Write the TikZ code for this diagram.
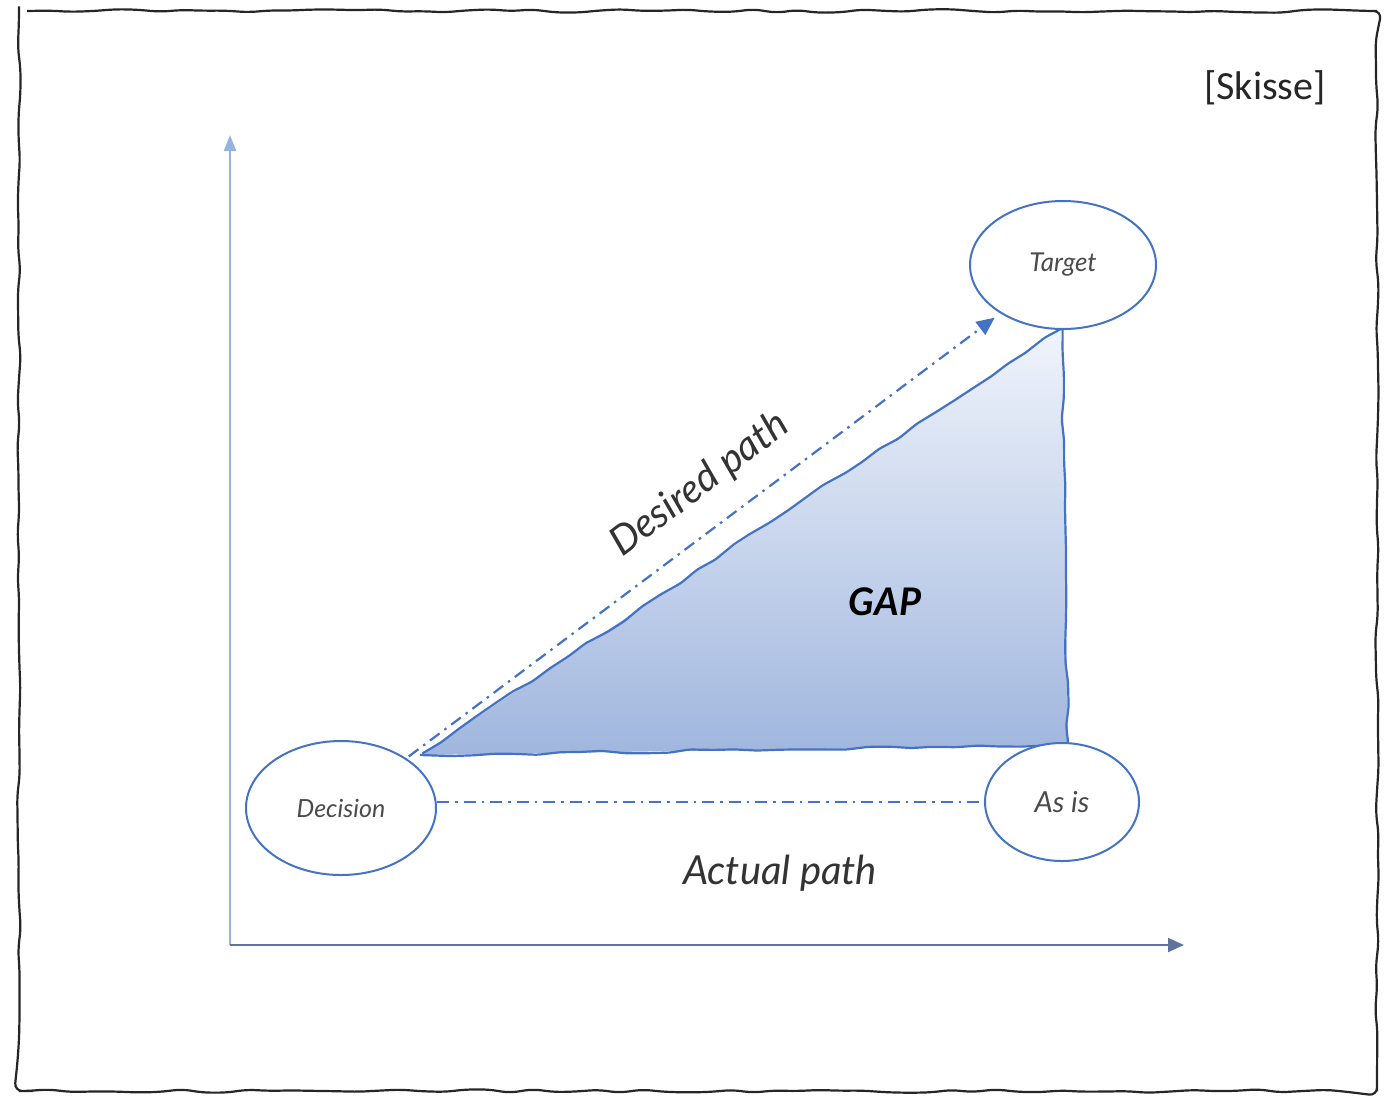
\documentclass[tikz,border=0pt]{standalone}
\usepackage{fontspec}
\setmainfont{Lato}
\newfontfamily\calib{Carlito}
\usetikzlibrary{shapes.geometric,arrows.meta,decorations.pathmorphing}
\definecolor{obl}{RGB}{68,114,196}
\definecolor{axl}{RGB}{150,178,222}
\definecolor{axh}{RGB}{95,115,155}
\definecolor{gapb}{RGB}{160,182,222}
\definecolor{gapt}{RGB}{240,244,251}
\definecolor{txg}{RGB}{75,75,75}
\tikzset{
  wob/.style={decorate,decoration={random steps,segment length=22pt,amplitude=1.8pt},rounded corners=8pt},
  bubble/.style={ellipse,draw=obl,line width=2pt,fill=white,inner sep=0pt,text=txg,font=\itshape\fontsize{26}{28}\selectfont},
  dashdot/.style={obl,line width=2.2pt,dash pattern=on 12pt off 6pt on 2.5pt off 6pt},
  hand/.style={text=black!80,font=\itshape\fontsize{40}{42}\selectfont}
}
\begin{document}
\begin{tikzpicture}[x=1pt,y=-1pt]
\pgfmathsetseed{7}
\useasboundingbox (0,0) rectangle (1391,1101);
% frame
\draw[wob,line width=2.2pt,black!85] (19,11) -- (1377,11) -- (1377,1091) -- (19,1091) -- cycle;
% axes
\coordinate (o) at (230,945);
\coordinate (ytip) at (230,135);
\coordinate (xtip) at (1184,945);
\draw[axl,line width=2pt,-{Triangle[length=16pt,width=12pt]}] (o) -- (ytip);
\draw[axh,line width=2pt,-{Triangle[length=16pt,width=14pt]}] (o) -- (xtip);
% gap triangle
\coordinate (gl) at (420,755);
\coordinate (gt) at (1062,328);
\coordinate (gr) at (1068,745);
\shade[top color=gapt,bottom color=gapb] (gl) -- (gt) -- (gr) -- cycle;
\draw[wob,obl,line width=2.2pt,rounded corners=3pt] (gl) -- (gt) -- (gr) -- cycle;
\node[font=\bfseries\itshape\fontsize{38}{40}\selectfont] (gap) at (885,602) {GAP};
% bubbles
\node[bubble,minimum width=186pt,minimum height=128pt] (tgt) at (1063,265) {Target};
\node[bubble,minimum width=190pt,minimum height=134pt,font=\itshape\fontsize{25}{27}\selectfont] (dec) at (341,808) {Decision};
\node[bubble,minimum width=154pt,minimum height=118pt,font=\itshape\fontsize{29}{31}\selectfont] (asis) at (1062,802) {As is};
% paths
\draw[dashdot,-{Triangle[length=18pt,width=16pt]}] ([shift={(2,-2)}]dec.37) -- ([shift={(-6,4)}]tgt.218);
\draw[dashdot] (dec.east |- asis.west) -- (asis.west);
\node[hand,rotate=37] (desired) at (700,485) {Desired path};
\node[hand] (actual) at (780,873) {Actual path};
\node[font=\calib\fontsize{40}{42}\selectfont,text=black!85] (skisse) at (1265,88) {[Skisse]};
\end{tikzpicture}
\end{document}
